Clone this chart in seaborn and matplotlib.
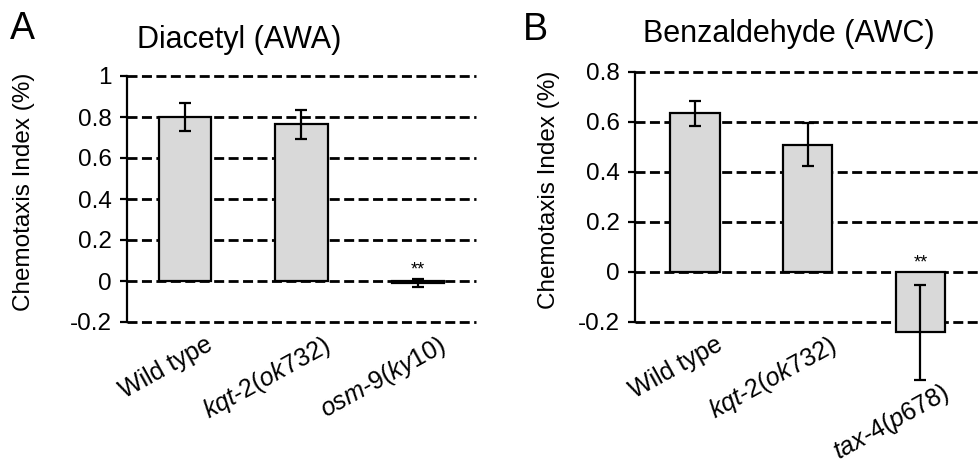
import numpy as np
import matplotlib
matplotlib.use("Agg")
import matplotlib.pyplot as plt
import matplotlib.transforms as mtransforms
import seaborn as sns

# ---------------- data ----------------
cats_a = ["Wild type", "kqt-2(ok732)", "osm-9(ky10)"]
labels_a = ["Wild type", r"$\mathit{kqt}$-$\mathit{2(ok732)}$", r"$\mathit{osm}$-$\mathit{9(ky10}$)"]
vals_a = [0.80, 0.765, -0.01]
errs_a = [0.07, 0.07, 0.02]
sig_a = ["", "", "**"]
yticks_a = [-0.2, 0, 0.2, 0.4, 0.6, 0.8, 1.0]
yticklabels_a = ["-0.2", "0", "0.2", "0.4", "0.6", "0.8", "1"]

cats_b = ["Wild type", "kqt-2(ok732)", "tax-4(p678)"]
labels_b = ["Wild type", r"$\mathit{kqt}$-$\mathit{2(ok732)}$", r"$\mathit{tax}$-$\mathit{4(p678}$)"]
vals_b = [0.635, 0.51, -0.24]
errs_b = [0.05, 0.085, 0.19]
sig_b = ["", "", "**"]
yticks_b = [-0.2, 0, 0.2, 0.4, 0.6, 0.8]
yticklabels_b = ["-0.2", "0", "0.2", "0.4", "0.6", "0.8"]

# ---------------- style ----------------
sns.set_theme(style="white")
plt.rcParams["font.family"] = ["Liberation Sans", "DejaVu Sans"]
plt.rcParams["mathtext.fontset"] = "custom"
plt.rcParams["mathtext.rm"] = "Liberation Sans"
plt.rcParams["mathtext.it"] = "Liberation Sans:italic"
plt.rcParams["axes.unicode_minus"] = False
for k in ["text.color", "axes.labelcolor", "xtick.color", "ytick.color", "axes.edgecolor"]:
    plt.rcParams[k] = "black"

W, H = 979, 471
fig = plt.figure(figsize=(W / 100, H / 100), dpi=100)

axA = fig.add_axes([127 / W, 1 - 322 / H, (476 - 127) / W, 246 / H])
axB = fig.add_axes([635 / W, 1 - 322 / H, (979 - 635) / W, 250 / H])

FILL = "#d9d9d9"


def draw(ax, cats, labels, vals, errs, sig, yticks, yticklabels, ylim, xlim, width, ylabel_x):
    sns.barplot(x=cats, y=vals, ax=ax, color=FILL, edgecolor="black",
                linewidth=1.6, width=width, errorbar=None, saturation=1)
    for p in ax.patches:
        p.set_clip_on(False)
        p.set_zorder(2)
    xs = [p.get_x() + p.get_width() / 2 for p in ax.patches]
    eb = ax.errorbar(xs, vals, yerr=errs, fmt="none", ecolor="black",
                     elinewidth=1.6, capsize=4.3, capthick=1.6, zorder=5)
    for child in eb.get_children():
        child.set_clip_on(False)

    ax.set_ylim(*ylim)
    ax.set_xlim(*xlim)
    ax.set_yticks(yticks)
    ax.set_yticklabels(yticklabels, fontsize=17.5)
    ax.set_xticks([])
    ax.set_xlabel("")

    # dashed horizontal gridlines (behind the bars, not clipped at the edges)
    ax.grid(False)
    for t in yticks:
        ax.axhline(t, color="black", linewidth=2.0, linestyle=(0, (3.6, 1.6)),
                   zorder=0.5, clip_on=False)

    for s in ["top", "right", "bottom"]:
        ax.spines[s].set_visible(False)
    ax.spines["left"].set_linewidth(1.6)
    ax.spines["left"].set_zorder(3)
    ax.tick_params(axis="y", direction="out", length=5, width=1.6,
                   pad=6, left=True)

    ax.set_ylabel("Chemotaxis Index (%)", fontsize=17.5)
    ax.yaxis.set_label_coords(ylabel_x, 0.53)

    # category labels, rotated, placed just below the axis or the lowest error bar
    for x, lab, v, e in zip(xs, labels, vals, errs):
        if v - e < ylim[0]:
            low, gap = v - e, 0
        else:
            low, gap = ylim[0], 10
        off = mtransforms.ScaledTranslation(20 / 100, -gap / 100, fig.dpi_scale_trans)
        ax.text(x, low, lab, fontsize=18, rotation=29, rotation_mode="anchor",
                ha="right", va="top", transform=ax.transData + off,
                clip_on=False)

    # significance stars
    for x, s, v, e in zip(xs, sig, vals, errs):
        if s:
            top = max(0, v + e)
            ax.annotate(s, xy=(x, top), xytext=(0, 3), textcoords="offset points",
                        ha="center", va="baseline", fontsize=13,
                        annotation_clip=False)


draw(axA, cats_a, labels_a, vals_a, errs_a, sig_a, yticks_a, yticklabels_a,
     (-0.2, 1.0), (-0.5, 2.5), 0.45, -0.264)
draw(axB, cats_b, labels_b, vals_b, errs_b, sig_b, yticks_b, yticklabels_b,
     (-0.2, 0.8), (-0.53, 2.52), 0.44, -0.218)

# titles and panel letters
fig.text(239.5 / W, 1 - 48 / H, "Diacetyl (AWA)", ha="center", va="baseline", fontsize=22)
fig.text(789 / W, 1 - 42 / H, "Benzaldehyde (AWC)", ha="center", va="baseline", fontsize=22)
fig.text(10 / W, 1 - 39 / H, "A", ha="left", va="baseline", fontsize=27)
fig.text(523 / W, 1 - 40 / H, "B", ha="left", va="baseline", fontsize=27)

fig.savefig("out.png", dpi=100)
